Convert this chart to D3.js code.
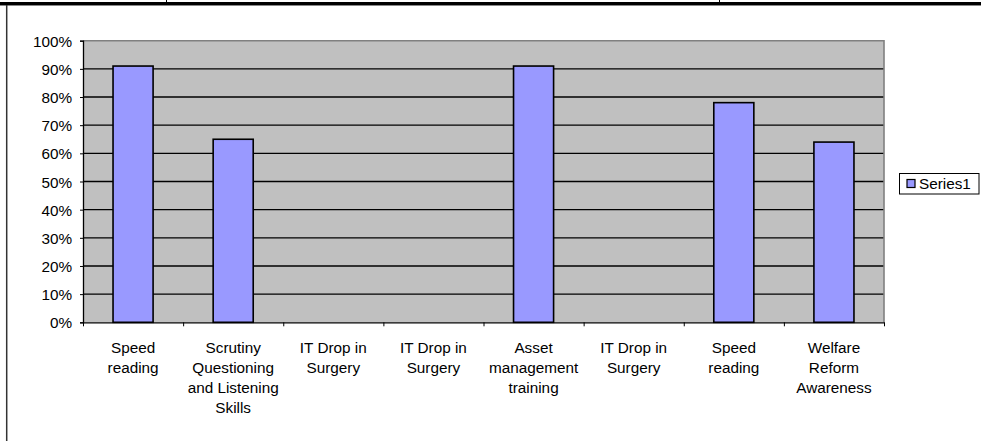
<!DOCTYPE html>
<html>
<head>
<meta charset="utf-8">
<script src="https://cdn.jsdelivr.net/npm/d3@7"></script>
<style>
html,body{margin:0;padding:0;background:#fff;}
svg{display:block;}
text{font-family:Arial,"Liberation Sans",sans-serif;fill:#000;}
</style>
</head>
<body>
<svg id="chart" width="981" height="441"></svg>
<script>
// ---- data ----
const categories = [
  "Speed reading",
  "Scrutiny Questioning and Listening Skills",
  "IT Drop in Surgery",
  "IT Drop in Surgery",
  "Asset management training",
  "IT Drop in Surgery",
  "Speed reading",
  "Welfare Reform Awareness"
];
const categoryLabelLines = [
  ["Speed", "reading"],
  ["Scrutiny", "Questioning", "and Listening", "Skills"],
  ["IT Drop in", "Surgery"],
  ["IT Drop in", "Surgery"],
  ["Asset", "management", "training"],
  ["IT Drop in", "Surgery"],
  ["Speed", "reading"],
  ["Welfare", "Reform", "Awareness"]
];
const series1 = [0.91, 0.65, null, null, 0.91, null, 0.78, 0.64];
const seriesName = "Series1";
const yTicks = [0, 0.1, 0.2, 0.3, 0.4, 0.5, 0.6, 0.7, 0.8, 0.9, 1.0];

// ---- layout ----
const svg = d3.select("#chart");
const W = 981, H = 441;
const plot = {left: 83, right: 884, top: 40.7, bottom: 322.3};
const fontSize = 15.3;

// outer frame (table borders)
svg.append("rect").attr("x", 0).attr("y", 2).attr("width", W).attr("height", 3).attr("fill", "#000");
svg.append("line").attr("x1", 0).attr("x2", W).attr("y1", 5.5).attr("y2", 5.5).attr("stroke", "#888").attr("stroke-width", 1);
[166.5, 719.5].forEach(x => {
  svg.append("line").attr("x1", x).attr("x2", x).attr("y1", 0).attr("y2", 3).attr("stroke", "#000").attr("stroke-width", 1);
});
svg.append("line").attr("x1", 6.7).attr("x2", 6.7).attr("y1", 5).attr("y2", H).attr("stroke", "#333").attr("stroke-width", 1.5);

// scales
const x = d3.scaleBand().domain(d3.range(categories.length)).range([plot.left, plot.right]).paddingInner(0).paddingOuter(0);
const y = d3.scaleLinear().domain([0, 1]).range([plot.bottom, plot.top]);
const barW = x.bandwidth() / 2.5;

// plot background
svg.append("rect")
  .attr("x", plot.left).attr("y", plot.top)
  .attr("width", plot.right - plot.left).attr("height", plot.bottom - plot.top)
  .attr("fill", "#C0C0C0");

// gridlines
svg.append("g").selectAll("line")
  .data(yTicks.filter(t => t > 0 && t < 1))
  .join("line")
  .attr("x1", plot.left).attr("x2", plot.right)
  .attr("y1", d => y(d)).attr("y2", d => y(d))
  .attr("stroke", "#000").attr("stroke-width", 1.3);

// plot border (top/right gray)
svg.append("path")
  .attr("d", `M${plot.left},${y(1)}H${plot.right}V${plot.bottom}`)
  .attr("fill", "none").attr("stroke", "#808080").attr("stroke-width", 1.6);

// bars
svg.append("g").selectAll("rect")
  .data(series1.map((v, i) => ({v, i})).filter(d => d.v != null))
  .join("rect")
  .attr("x", d => x(d.i) + (x.bandwidth() - barW) / 2)
  .attr("y", d => y(d.v))
  .attr("width", barW)
  .attr("height", d => y(0) - y(d.v))
  .attr("fill", "#9999FF")
  .attr("stroke", "#000")
  .attr("stroke-width", 1.6);

// y axis
const yAxis = svg.append("g")
  .attr("transform", `translate(${plot.left},0)`)
  .call(d3.axisLeft(y).tickValues(yTicks).tickFormat(d3.format(".0%")).tickSize(3).tickPadding(8));
yAxis.select(".domain").attr("stroke", "#000").attr("stroke-width", 1.3);
yAxis.selectAll(".tick line").attr("stroke", "#000");
yAxis.selectAll(".tick text")
  .attr("font-size", fontSize)
  .attr("font-family", "Arial, 'Liberation Sans', sans-serif")
  .attr("fill", "#000")
  .attr("dy", "0.36em");

// x axis
const xEdge = d3.scaleLinear().domain([0, categories.length]).range([plot.left, plot.right]);
const xAxis = svg.append("g")
  .attr("transform", `translate(0,${plot.bottom})`)
  .call(d3.axisBottom(xEdge).tickValues(d3.range(categories.length + 1)).tickFormat("").tickSize(4).tickSizeOuter(0));
xAxis.select(".domain").attr("stroke", "#000").attr("stroke-width", 1.3);
xAxis.selectAll(".tick line").attr("stroke", "#000");

// category labels
const lblG = svg.append("g");
categoryLabelLines.forEach((lines, i) => {
  const t = lblG.append("text")
    .attr("x", x(i) + x.bandwidth() / 2)
    .attr("y", 352.5)
    .attr("text-anchor", "middle")
    .attr("font-size", fontSize);
  lines.forEach((ln, j) => {
    t.append("tspan").attr("x", x(i) + x.bandwidth() / 2).attr("dy", j === 0 ? 0 : 20.3).text(ln);
  });
});

// legend
const lg = svg.append("g");
lg.append("rect").attr("x", 899.5).attr("y", 173.5).attr("width", 79.5).attr("height", 20.5)
  .attr("fill", "#fff").attr("stroke", "#000").attr("stroke-width", 1);
lg.append("rect").attr("x", 907).attr("y", 179.5).attr("width", 8).attr("height", 8)
  .attr("fill", "#9999FF").attr("stroke", "#000").attr("stroke-width", 1.2);
lg.append("text").attr("x", 919).attr("y", 188.5).attr("font-size", fontSize).text(seriesName);
</script>
</body>
</html>
